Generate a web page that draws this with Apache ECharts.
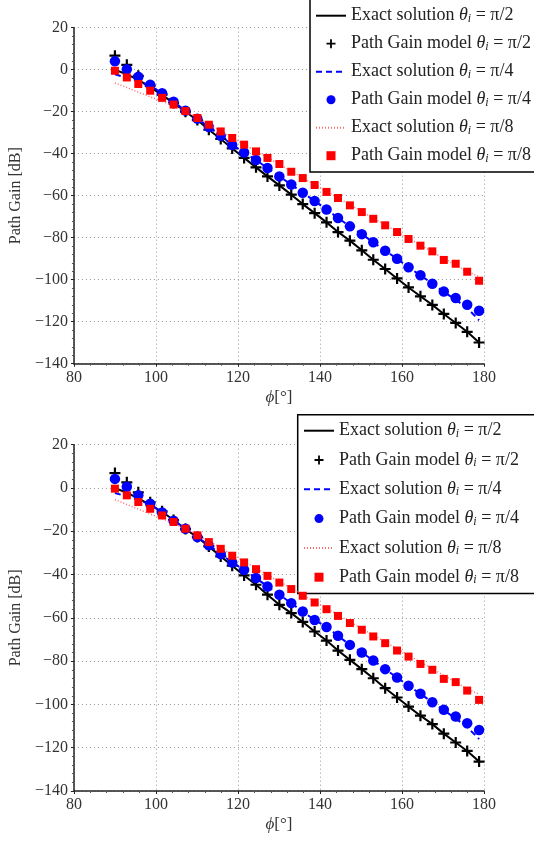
<!DOCTYPE html>
<html><head><meta charset="utf-8">
<script src="https://cdn.jsdelivr.net/npm/echarts@6/dist/echarts.min.js"></script>
<style>html,body{margin:0;padding:0;background:#fff}#c{width:534px;height:841px}</style>
</head><body><div id="c"></div>
<script>
// ---- data ----
const phi = [90, 92.9, 95.7, 98.6, 101.5, 104.3, 107.2, 110.1, 112.9, 115.8, 118.6, 121.5, 124.4, 127.2, 130.1, 133.0,
             135.8, 138.7, 141.6, 144.4, 147.3, 150.2, 153.0, 155.9, 158.8, 161.6, 164.5, 167.4, 170.2, 173.1, 175.9, 178.8];

// top plot
const topExactPi2 = [0, -2.2, -4.8, -8.3, -12, -15.9, -20, -24, -28.6, -33, -37.5, -42, -46.5, -50.8, -55.1, -59.5,
                     -64, -68.3, -72.7, -77.3, -81.4, -86, -90.5, -94.9, -99.4, -103.7, -107.9, -112, -116.3, -120.6, -124.8, -129.9];
const topModelPi2 = [6.7, 2.3, -2.9, -7.6, -11.9, -15.9, -20, -24, -28.6, -33, -37.5, -42, -46.5, -50.8, -55.1, -59.5,
                     -64, -68.3, -72.7, -77.3, -81.4, -86, -90.5, -94.9, -99.4, -103.7, -107.9, -112, -116.3, -120.6, -124.8, -129.9];
const topExactPi4 = [-2.2, -3.8, -5.6, -7.6, -11.2, -15.3, -19.5, -23.3, -27.3, -31.5, -35.8, -39.4, -43, -46.8, -50.8, -54.7,
                     -58.6, -62.5, -66.6, -70.6, -74.6, -78.3, -82.2, -86.2, -90, -94.1, -97.9, -101.9, -105.8, -109.5, -113.5, -119.3];
const topModelPi4 = [4, 0.2, -3.4, -7.2, -11.2, -15.3, -19.5, -23.3, -27.3, -31.5, -35.8, -39.4, -43, -46.8, -50.8, -54.7,
                     -58.6, -62.5, -66.6, -70.6, -74.6, -78.3, -82.2, -86.2, -90, -94.1, -97.9, -101.9, -105.6, -108.7, -111.9, -114.8];
const topExactPi8 = [-6.3, -8.5, -10.7, -12.9, -15, -17.3, -19.8, -22.8, -26, -29.2, -32.4, -35.6, -38.8, -41.9, -45.1, -48.3,
                     -51.5, -54.7, -57.9, -61.1, -64.3, -67.5, -70.7, -73.9, -77.1, -80.3, -83.5, -86.7, -89.9, -93.1, -96.1, -98.5];
const topModelPi8 = [-0.5, -3.7, -6.8, -10, -13.4, -16.6, -19.7, -23, -26.2, -29.4, -32.5, -35.7, -38.9, -42, -44.9, -48.6,
                     -51.6, -54.9, -58.2, -61.1, -64.6, -67.8, -71, -74.1, -77.3, -80.6, -83.8, -86.5, -90.6, -92.4, -96.2, -100.5];

// bottom plot
const botExactPi2 = [0, -2.2, -4.8, -7.8, -11, -14.8, -19, -22.7, -27, -31.6, -35.9, -40.4, -44.7, -49.3, -54, -57.8,
                     -61.9, -66.3, -70.5, -75.1, -79.4, -83.7, -87.9, -92.5, -96.8, -101, -105.2, -109.1, -113.5, -117.6, -121.5, -126.4];
const botModelPi2 = [6.9, 2.6, -2, -6.6, -10.8, -14.8, -19, -22.7, -27, -31.6, -35.9, -40.4, -44.7, -49.3, -54, -57.8,
                     -61.9, -66.3, -70.5, -75.1, -79.4, -83.7, -87.9, -92.5, -96.8, -101, -105.2, -109.1, -113.5, -117.6, -121.5, -126.4];
const botExactPi4 = [-2.3, -3.9, -5.6, -7.5, -11.3, -15.1, -18.8, -22.7, -26.5, -30.5, -34.4, -37.8, -41.6, -45.5, -49.3, -53.2,
                     -57.1, -61, -64.2, -68.3, -72.5, -76, -79.7, -83.7, -87.6, -91.4, -95.1, -99, -102.7, -106.5, -110.5, -116];
const botModelPi4 = [4.2, 0.6, -3.4, -7.3, -11.3, -15.1, -18.8, -22.7, -26.5, -30.5, -34.4, -37.8, -41.6, -45.5, -49.3, -53.2,
                     -57.1, -61, -64.2, -68.3, -72.5, -76, -79.7, -83.7, -87.6, -91.4, -95.1, -99, -102.5, -105.6, -108.7, -111.8];
const botExactPi8 = [-5.4, -7.6, -9.8, -12, -14.2, -16.4, -18.8, -21.6, -24.6, -27.7, -30.8, -33.9, -37, -40.1, -43.2, -46.3,
                     -49.4, -52.5, -55.6, -58.7, -61.8, -64.9, -68, -71.1, -74.2, -77.3, -80.4, -83.5, -86.6, -89.7, -92.8, -95.3];
const botModelPi8 = [-0.3, -3.4, -6.5, -9.6, -12.7, -15.7, -18.8, -21.9, -25, -28.1, -31.3, -34.4, -37.5, -40.6, -43.7, -46.7,
                     -49.8, -52.9, -56, -59.1, -62.4, -65.5, -68.6, -71.7, -75.1, -77.9, -81.3, -84, -88.2, -89.7, -93.6, -97.9];

// legend labels
const labelPrefix = ['Exact solution ', 'Path Gain model ', 'Exact solution ', 'Path Gain model ', 'Exact solution ', 'Path Gain model '];
const labelAngle = ['π/2', 'π/2', 'π/4', 'π/4', 'π/8', 'π/8'];
const seriesNames = labelPrefix.map((p, i) => p + 'θi = ' + labelAngle[i]);

const xTicks = { min: 80, max: 180, interval: 20 };
const yTicks = { min: -140, max: 20, interval: 20 };

// ---- chart ----
const FONT = 'Liberation Serif';
const chart = echarts.init(document.getElementById('c'), null, { renderer: 'canvas' });

const plusPath = 'path://M4,0L6,0L6,4L10,4L10,6L6,6L6,10L4,10L4,6L0,6L0,4L4,4Z';
const squarePath = 'path://M0,0L10,0L10,10L0,10Z';

function makeX(gi) {
  return {
    type: 'value', gridIndex: gi, min: xTicks.min, max: xTicks.max, interval: xTicks.interval,
    name: '{i|ϕ}[°]', nameLocation: 'middle', nameGap: 25,
    nameTextStyle: { fontFamily: FONT, fontSize: 17, color: '#333', rich: { i: { fontFamily: FONT, fontStyle: 'italic', fontSize: 17, color: '#333' } } },
    axisLine: { show: true, onZero: false, lineStyle: { color: '#222', width: 1.5 } },
    axisTick: { show: true, inside: false, length: 3, lineStyle: { color: '#222' } },
    minorTick: { show: true, splitNumber: 5, length: 2, lineStyle: { color: '#555' } },
    axisLabel: { fontFamily: FONT, fontSize: 16, color: '#333', margin: 6 },
    splitLine: { show: true, lineStyle: { color: '#999', type: [1, 3], width: 1 } }
  };
}
function makeY(gi) {
  return {
    type: 'value', gridIndex: gi, min: yTicks.min, max: yTicks.max, interval: yTicks.interval,
    name: 'Path Gain [dB]', nameLocation: 'middle', nameGap: 40,
    nameTextStyle: { fontFamily: FONT, fontSize: 16, color: '#333' },
    axisLine: { show: true, onZero: false, lineStyle: { color: '#222', width: 1.5 } },
    axisTick: { show: true, inside: false, length: 3, lineStyle: { color: '#222' } },
    minorTick: { show: true, splitNumber: 5, length: 2, lineStyle: { color: '#555' } },
    axisLabel: { fontFamily: FONT, fontSize: 16, color: '#333', margin: 6,
      formatter: v => (v < 0 ? '\u2212' + Math.abs(v) : String(v)) },
    splitLine: { show: true, lineStyle: { color: '#999', type: [1, 3], width: 1 } }
  };
}

function pairs(ys) { return phi.map((x, i) => [x, ys[i]]); }

function seriesFor(gi, e2, m2, e4, m4, e8, m8) {
  const base = { xAxisIndex: gi, yAxisIndex: gi, animation: false };
  return [
    Object.assign({ type: 'line', name: seriesNames[0], data: pairs(e2), symbol: 'none', z: 2,
      lineStyle: { color: '#000', width: 2 }, itemStyle: { color: '#000' } }, base),
    Object.assign({ type: 'scatter', name: seriesNames[1], data: pairs(m2), symbol: plusPath, symbolSize: 11, z: 3,
      itemStyle: { color: '#000', opacity: 1 } }, base),
    Object.assign({ type: 'line', name: seriesNames[2], data: pairs(e4), symbol: 'none', z: 4,
      lineStyle: { color: '#0000ff', width: 2, type: [6, 4] }, itemStyle: { color: '#0000ff' } }, base),
    Object.assign({ type: 'scatter', name: seriesNames[3], data: pairs(m4), symbol: 'circle', symbolSize: 10.5, z: 5,
      itemStyle: { color: '#0000ff', opacity: 1 } }, base),
    Object.assign({ type: 'line', name: seriesNames[4], data: pairs(e8), symbol: 'none', z: 6,
      lineStyle: { color: '#ff6a6a', width: 1.5, type: [1, 2] }, itemStyle: { color: '#ff6a6a' } }, base),
    Object.assign({ type: 'scatter', name: seriesNames[5], data: pairs(m8), symbol: squarePath, symbolSize: 8, z: 7,
      itemStyle: { color: '#ff0000', opacity: 1 } }, base)
  ];
}

function fmt(name) {
  const i = seriesNames.indexOf(name);
  return '{t|' + labelPrefix[i] + '}{m|θ}{s|i}{t| = ' + labelAngle[i] + '}';
}
const richStyles = {
  t: { fontFamily: FONT, fontSize: 18, color: '#222', lineHeight: 18 },
  m: { fontFamily: FONT, fontSize: 18, fontStyle: 'italic', color: '#222', lineHeight: 18 },
  s: { fontFamily: FONT, fontSize: 12, fontStyle: 'italic', color: '#222', lineHeight: 12, verticalAlign: 'bottom' }
};
function legendData() {
  return seriesNames.map((n, i) => (i % 2 === 0 ? { name: n, itemStyle: { opacity: 0 } } : { name: n, itemStyle: { opacity: 1 } }));
}
function legendCfg(left, top, padding, gap) {
  return {
    orient: 'vertical', left: left, top: top, padding: padding, itemGap: gap,
    itemWidth: 30, itemHeight: 9, selectedMode: false,
    borderColor: '#000', borderWidth: 1.5, backgroundColor: '#fff', borderRadius: 0,
    data: legendData(), formatter: fmt,
    textStyle: { fontFamily: FONT, fontSize: 18, color: '#222', rich: richStyles }
  };
}

const option = {
  backgroundColor: '#fff',
  animation: false,
  grid: [
    { left: 72, right: 50, top: 27.7, height: 336, containLabel: false },
    { left: 72, right: 50, top: 444.7, height: 346.3, containLabel: false }
  ],
  xAxis: [makeX(0), makeX(1)],
  yAxis: [makeY(0), makeY(1)],
  legend: [
    legendCfg(310, -10, [16.7, 30, 7.3, 5], 10),
    legendCfg(297.7, 414.7, [7, 30, 7.3, 5.3], 11.3)
  ],
  series: [].concat(
    seriesFor(0, topExactPi2, topModelPi2, topExactPi4, topModelPi4, topExactPi8, topModelPi8),
    seriesFor(1, botExactPi2, botModelPi2, botExactPi4, botModelPi4, botExactPi8, botModelPi8)
  )
};
chart.setOption(option);
</script></body></html>
